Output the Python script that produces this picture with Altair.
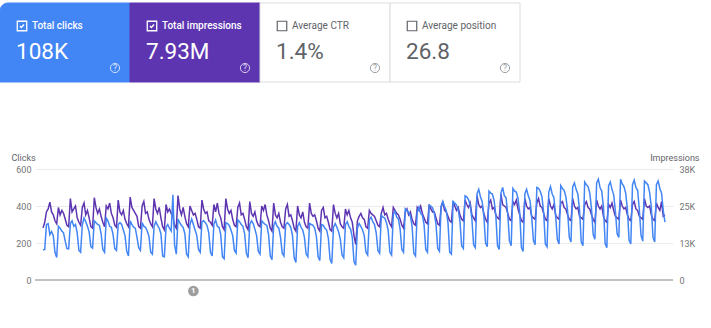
import altair as alt
import pandas as pd

# ---------------- data ----------------
card_labels = ["Total clicks", "Total impressions", "Average CTR", "Average position"]
card_values = ["108K", "7.93M", "1.4%", "26.8"]
card_selected = [True, True, False, False]

# daily clicks, one row per week (Sat, Sun, Mon, Tue, Wed, Thu, Fri)
clicks = [
    162, 165, 300, 305, 245, 262, 240,
    150, 122, 290, 280, 265, 255, 210,
    170, 168, 305, 320, 290, 300, 255,
    160, 150, 300, 335, 315, 290, 260,
    180, 172, 320, 310, 300, 295, 250,
    165, 150, 335, 320, 290, 285, 245,
    170, 160, 300, 310, 300, 270, 240,
    155, 130, 320, 300, 285, 280, 230,
    175, 160, 310, 290, 285, 265, 235,
    150, 140, 290, 315, 295, 280, 250,
    130, 125, 285, 300, 280, 265, 460,
    190, 140, 330, 310, 295, 285, 250,
    140, 125, 300, 330, 300, 270, 240,
    165, 150, 315, 320, 310, 295, 255,
    150, 130, 300, 325, 290, 285, 245,
    125, 115, 310, 305, 295, 270, 240,
    160, 145, 325, 315, 300, 290, 250,
    145, 120, 300, 320, 305, 275, 240,
    155, 140, 320, 310, 300, 295, 245,
    130, 110, 295, 315, 290, 280, 230,
    145, 130, 300, 310, 300, 285, 240,
    120, 95, 290, 310, 285, 270, 230,
    140, 125, 305, 300, 295, 280, 235,
    125, 105, 300, 295, 280, 270, 225,
    110, 90, 285, 305, 285, 260, 220,
    135, 120, 300, 315, 290, 275, 230,
    100, 80, 280, 305, 290, 270, 240,
    150, 135, 325, 340, 315, 300, 255,
    160, 145, 350, 340, 335, 310, 270,
    150, 135, 355, 370, 340, 330, 275,
    165, 150, 385, 375, 365, 345, 290,
    145, 130, 370, 395, 360, 350, 300,
    165, 150, 405, 400, 390, 360, 300,
    170, 155, 400, 425, 395, 375, 310,
    150, 140, 425, 415, 405, 380, 320,
    185, 170, 455, 450, 435, 405, 330,
    190, 175, 465, 490, 450, 425, 345,
    200, 180, 480, 470, 465, 430, 350,
    185, 165, 470, 500, 455, 445, 355,
    210, 185, 495, 480, 475, 440, 365,
    175, 155, 465, 490, 455, 430, 340,
    215, 190, 500, 495, 480, 450, 365,
    195, 180, 475, 505, 465, 445, 350,
    220, 195, 510, 495, 485, 450, 375,
    230, 205, 505, 525, 490, 465, 380,
    205, 185, 530, 515, 505, 470, 385,
    245, 220, 525, 545, 500, 480, 395,
    195, 175, 510, 530, 490, 460, 370,
    250, 230, 545, 520, 505, 470, 385,
    215, 195, 515, 540, 500, 485, 380,
    240, 210, 535, 525, 515, 475, 395,
    230, 205, 515, 535, 495, 470, 375,
    313,
]

# daily impressions in thousands, same weeks
impressions_k = [
    17.6, 19.5, 23.0, 24.0, 26.3, 23.0, 22.0,
    20.0, 19.0, 24.5, 22.0, 23.5, 22.5, 20.5,
    18.5, 18.0, 27.5, 23.0, 24.0, 25.0, 21.0,
    19.5, 18.5, 24.5, 26.0, 22.0, 23.5, 21.0,
    18.0, 17.5, 27.8, 24.5, 22.5, 24.0, 21.5,
    19.5, 18.0, 25.0, 24.0, 26.0, 22.5, 21.0,
    18.5, 17.8, 27.0, 23.0, 22.0, 23.5, 20.5,
    19.0, 18.0, 28.0, 24.5, 23.5, 22.5, 21.5,
    18.0, 17.5, 25.0, 26.5, 22.5, 23.0, 20.5,
    19.0, 18.0, 27.5, 24.0, 22.5, 24.5, 21.0,
    18.0, 17.0, 25.5, 23.0, 24.0, 22.5, 21.5,
    18.5, 17.5, 28.5, 24.0, 22.0, 24.5, 21.5,
    19.0, 18.0, 25.0, 23.5, 22.0, 22.5, 20.5,
    18.0, 17.5, 27.0, 24.0, 22.5, 23.0, 20.0,
    19.5, 18.5, 25.5, 23.0, 26.0, 22.5, 21.0,
    18.0, 17.0, 27.5, 24.0, 22.5, 23.5, 20.5,
    18.5, 18.0, 24.5, 26.0, 22.0, 22.5, 20.5,
    18.0, 17.0, 26.5, 22.5, 21.5, 23.0, 20.0,
    18.5, 18.0, 25.0, 23.5, 25.5, 22.0, 20.0,
    17.5, 16.5, 26.0, 22.0, 21.0, 22.5, 19.5,
    18.0, 17.5, 24.0, 25.5, 21.5, 22.0, 20.0,
    17.5, 16.5, 25.0, 22.0, 21.0, 23.0, 19.5,
    18.0, 17.5, 26.0, 22.5, 21.5, 22.0, 20.0,
    17.5, 16.5, 23.5, 24.5, 21.0, 21.5, 19.5,
    17.0, 16.5, 25.5, 22.5, 21.0, 22.5, 19.0,
    18.0, 17.5, 24.0, 22.0, 23.5, 21.0, 19.5,
    15.0, 12.0, 20.0, 21.5, 22.5, 21.0, 20.5,
    18.0, 17.5, 23.5, 22.5, 22.0, 21.5, 20.0,
    18.5, 18.0, 22.5, 24.5, 22.0, 22.5, 20.5,
    19.0, 18.0, 24.5, 23.5, 22.5, 22.0, 20.5,
    18.5, 17.5, 23.0, 24.0, 22.0, 23.0, 20.5,
    19.0, 18.5, 24.5, 23.5, 25.0, 22.5, 21.0,
    19.5, 19.0, 25.5, 24.0, 23.0, 23.0, 21.0,
    19.0, 18.5, 24.5, 26.5, 23.5, 23.0, 21.5,
    20.0, 19.5, 26.5, 25.0, 23.5, 24.5, 22.0,
    20.5, 20.0, 27.0, 25.5, 24.5, 26.0, 22.0,
    21.0, 20.0, 28.5, 25.5, 24.5, 25.0, 22.5,
    20.5, 19.5, 26.0, 27.0, 24.0, 24.5, 22.0,
    21.0, 20.5, 29.0, 25.5, 25.0, 24.5, 22.5,
    20.5, 20.0, 26.5, 25.5, 27.0, 24.0, 22.0,
    20.0, 19.5, 27.5, 25.0, 24.0, 24.5, 21.5,
    21.0, 20.5, 26.0, 27.5, 25.0, 24.5, 22.5,
    20.5, 20.0, 27.5, 25.0, 24.0, 25.5, 22.0,
    21.0, 20.5, 26.0, 26.5, 24.5, 24.0, 22.0,
    20.5, 20.0, 27.5, 25.0, 24.0, 24.5, 21.5,
    21.0, 20.5, 25.5, 26.5, 24.5, 24.0, 22.0,
    20.5, 19.5, 27.0, 25.0, 24.0, 25.0, 21.5,
    20.0, 19.5, 25.5, 24.5, 26.0, 23.5, 21.5,
    21.0, 20.5, 27.0, 25.0, 24.0, 24.5, 22.0,
    20.5, 20.0, 25.5, 26.5, 24.0, 23.5, 21.5,
    21.0, 20.5, 27.5, 25.0, 24.5, 25.0, 22.0,
    20.5, 20.0, 26.0, 24.5, 23.5, 26.5, 21.5,
    21.9,
]

clicks_ticks = [0, 200, 400, 600]
impressions_ticks = [0, 12500, 25000, 37500]
annotation_days = [88]
annotation_labels = ["1"]

# ---------------- styles ----------------
BLUE = "#4285f4"
PURPLE = "#5e35b1"
GREY_TEXT = "#5f6368"
FONT = "Roboto"
W, H = 638, 111
CARD_W = 130

series = pd.DataFrame({
    "day": list(range(len(clicks))),
    "clicks": clicks,
    "impressions": [v * 1000 for v in impressions_k],
})
cards = pd.DataFrame({"label": card_labels, "value": card_values, "selected": card_selected})
notes = pd.DataFrame({"day": annotation_days, "label": annotation_labels})

x_days = alt.X("day:Q", scale=alt.Scale(domain=[-4.7, 368.7], nice=False, zero=False), axis=None)


def card_x(offset_px=None):
    sc = alt.Scale(type="band", domain=card_labels, range=[-35, -35 + 4 * CARD_W],
                   paddingInner=0, paddingOuter=0)
    if offset_px is None:
        return alt.X("label:N", scale=sc, axis=None)
    return alt.X("label:N", scale=sc, axis=None, bandPosition=offset_px / CARD_W)


card_fills = [BLUE, PURPLE, "#ffffff", "#ffffff"]
card_strokes = [BLUE, PURPLE, "#dadce0", "#dadce0"]

card_base = alt.Chart(cards)

rect_first = card_base.transform_filter(alt.datum.label == card_labels[0]).mark_rect(
    cornerRadiusTopLeft=8, strokeWidth=1
).encode(
    x=card_x(), y=alt.value(-166), y2=alt.value(-87),
    fill=alt.Fill("label:N", scale=alt.Scale(domain=card_labels, range=card_fills), legend=None),
    stroke=alt.Stroke("label:N", scale=alt.Scale(domain=card_labels, range=card_strokes), legend=None),
)
rect_rest = card_base.transform_filter(alt.datum.label != card_labels[0]).mark_rect(
    strokeWidth=1
).encode(
    x=card_x(), y=alt.value(-166), y2=alt.value(-87),
    fill=alt.Fill("label:N", scale=alt.Scale(domain=card_labels, range=card_fills), legend=None),
    stroke=alt.Stroke("label:N", scale=alt.Scale(domain=card_labels, range=card_strokes), legend=None),
)

sel = card_base.transform_filter("datum.selected")
unsel = card_base.transform_filter("!datum.selected")

box_sel = sel.mark_square(filled=False, size=90, strokeWidth=1.3, color="white", opacity=1).encode(
    x=card_x(22), y=alt.value(-143))
box_unsel = unsel.mark_square(filled=False, size=90, strokeWidth=1.2, color=GREY_TEXT, opacity=1).encode(
    x=card_x(22), y=alt.value(-143))
check = sel.mark_point(shape="M-0.65,0 L-0.2,0.45 L0.65,-0.45", filled=False, size=40,
                       strokeWidth=1.4, color="white", opacity=1).encode(
    x=card_x(22), y=alt.value(-143))

label_sel = sel.mark_text(align="left", baseline="middle", dx=32, font=FONT, fontSize=10,
                          fontWeight=500, color="white").encode(
    x=card_x(0), y=alt.value(-143), text="label:N")
label_unsel = unsel.mark_text(align="left", baseline="middle", dx=32, font=FONT, fontSize=10,
                              fontWeight=400, color=GREY_TEXT).encode(
    x=card_x(0), y=alt.value(-143), text="label:N")

value_sel = sel.mark_text(align="left", baseline="alphabetic", dx=16, font=FONT, fontSize=22.5,
                          fontWeight=400, color="white").encode(
    x=card_x(0), y=alt.value(-110), text="value:N")
value_unsel = unsel.mark_text(align="left", baseline="alphabetic", dx=16, font=FONT, fontSize=22.5,
                              fontWeight=400, color=GREY_TEXT).encode(
    x=card_x(0), y=alt.value(-110), text="value:N")

help_sel = sel.mark_point(shape="circle", filled=False, size=85, strokeWidth=1, color="white",
                          opacity=0.75).encode(x=card_x(115), y=alt.value(-101))
help_unsel = unsel.mark_point(shape="circle", filled=False, size=85, strokeWidth=1, color="#9aa0a6",
                              opacity=1).encode(x=card_x(115), y=alt.value(-101))
help_q_sel = sel.mark_text(text="?", font=FONT, fontSize=8.5, color="white", opacity=0.8,
                           baseline="middle", align="center").encode(
    x=card_x(115), y=alt.value(-101))
help_q_unsel = unsel.mark_text(text="?", font=FONT, fontSize=8.5, color="#9aa0a6",
                               baseline="middle", align="center").encode(
    x=card_x(115), y=alt.value(-101))

# ---------------- chart ----------------
base = alt.Chart(series)

baseline = base.mark_rule(color="#c2c2c2", strokeWidth=1.5).encode(
    x=alt.value(0), x2=alt.value(W), y=alt.value(H))

impr_line = base.mark_line(color=PURPLE, strokeWidth=1.5, interpolate="linear").encode(
    x=x_days,
    y=alt.Y("impressions:Q", scale=alt.Scale(domain=[0, 37500], nice=False, zero=True),
            axis=alt.Axis(orient="right", values=impressions_ticks,
                          labelExpr="datum.value == 0 ? '0' : round(datum.value / 1000) + 'K'",
                          grid=False, domain=False, ticks=False, labelPadding=6,
                          labelColor="#757575", labelFont=FONT, labelFontSize=9,
                          title="Impressions", titleAngle=0, titleX=26, titleY=-12,
                          titleAlign="right", titleBaseline="middle", titleFont=FONT,
                          titleFontSize=9, titleFontWeight="normal", titleColor=GREY_TEXT)),
)

clicks_line = base.mark_line(color=BLUE, strokeWidth=1.5, interpolate="linear").encode(
    x=x_days,
    y=alt.Y("clicks:Q", scale=alt.Scale(domain=[0, 600], nice=False, zero=True),
            axis=alt.Axis(orient="left", values=clicks_ticks, grid=True, gridColor="#ececec",
                          gridWidth=1, domain=False, ticks=False, labelPadding=4,
                          labelColor="#757575", labelFont=FONT, labelFontSize=9,
                          title="Clicks", titleAngle=0, titleX=-24, titleY=-12,
                          titleAlign="left", titleBaseline="middle", titleFont=FONT,
                          titleFontSize=9, titleFontWeight="normal", titleColor=GREY_TEXT)),
)

note_dot = alt.Chart(notes).mark_circle(size=115, color="#9e9e9e", opacity=1).encode(
    x=x_days, y=alt.value(122))
note_txt = alt.Chart(notes).mark_text(font=FONT, fontSize=8, fontWeight=700, color="white",
                                      baseline="middle", align="center").encode(
    x=x_days, y=alt.value(122), text="label:N")

chart = alt.layer(
    baseline,
    impr_line,
    clicks_line,
    note_dot, note_txt,
    rect_first, rect_rest,
    box_sel, box_unsel, check,
    label_sel, label_unsel,
    value_sel, value_unsel,
    help_sel, help_unsel, help_q_sel, help_q_unsel,
).resolve_scale(
    x="independent", y="independent"
).properties(
    width=W, height=H,
    autosize=alt.AutoSizeParams(type="none"),
    padding={"left": 35, "top": 169, "right": 38, "bottom": 48},
    background="white",
).configure_view(stroke=None)

chart.save("out.html", embed_options={"renderer": "svg", "actions": False})
